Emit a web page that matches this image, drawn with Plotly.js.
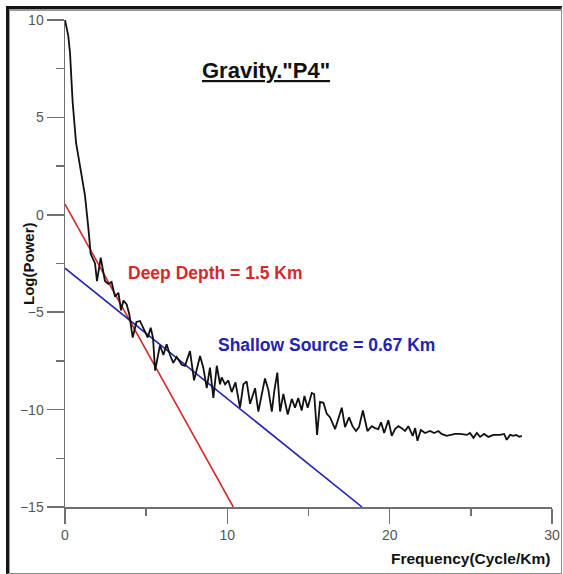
<!DOCTYPE html>
<html>
<head>
<meta charset="utf-8">
<script src="https://cdn.plot.ly/plotly-3.0.1.min.js"></script>
<style>
  html, body { margin: 0; padding: 0; background: #ffffff; }
  #wrap { position: relative; width: 563px; height: 574px; }
  #chart { position: absolute; left: 0; top: 0; width: 563px; height: 574px; }
  #frame {
    position: absolute; left: 6px; top: 6px; width: 552px; height: 564px;
    border-left: 3px solid #141414; border-top: 3px solid #141414;
    border-right: 1px solid #8c8c8c; border-bottom: 1px solid #8c8c8c;
    box-shadow: inset 1px 2px 0 #9a9a9a;
    pointer-events: none;
  }
</style>
</head>
<body>
<div id="wrap">
  <div id="chart"></div>
  <div id="frame"></div>
</div>
<script>
// Radially averaged power spectrum of the gravity profile P4
const frequency = [
  0.00, 0.20, 0.31, 0.47, 0.68, 0.92, 1.23, 1.44, 1.58, 1.85,
  1.97, 2.20, 2.46, 2.67, 2.87, 3.08, 3.29, 3.45, 3.60, 3.80,
  3.96, 4.17, 4.40, 4.62, 4.83, 5.10, 5.28, 5.42, 5.55, 5.85,
  6.06, 6.26, 6.47, 6.67, 6.88, 7.19, 7.39, 7.70, 7.95, 8.15,
  8.32, 8.52, 8.73, 8.93, 9.14, 9.35, 9.55, 9.65, 9.86, 10.06,
  10.27, 10.50, 10.78, 10.99, 11.19, 11.40, 11.71, 11.91, 12.12, 12.32,
  12.53, 12.74, 12.90, 13.08, 13.25, 13.45, 13.72, 13.97, 14.17, 14.37,
  14.58, 14.75, 14.95, 15.20, 15.35, 15.53, 15.71, 15.92, 16.12, 16.33,
  16.64, 16.88, 17.05, 17.25, 17.50, 17.71, 17.93, 18.11, 18.35, 18.63,
  18.90, 19.10, 19.30, 19.47, 19.66, 19.92, 20.13, 20.33, 20.54, 20.74,
  20.95, 21.15, 21.42, 21.57, 21.71, 21.92, 22.18, 22.49, 22.74, 23.00,
  23.20, 23.51, 24.03, 24.34, 24.75, 24.95, 25.16, 25.37, 25.57, 25.82,
  26.08, 26.39, 26.80, 27.05, 27.21, 27.42, 27.62, 27.79, 27.99, 28.14
];
const logPower = [
  10.0, 9.2, 8.3, 5.8, 3.7, 2.5, 1.0, -0.7, -2.0, -2.5,
  -3.4, -2.2, -3.4, -3.55, -3.45, -4.2, -4.0, -4.9, -4.4, -4.6,
  -5.1, -6.3, -5.5, -5.45, -5.8, -6.3, -5.8, -6.3, -8.0, -6.7,
  -7.2, -6.65, -7.2, -7.6, -7.3, -7.7, -7.75, -7.0, -8.5, -7.85,
  -7.25, -7.85, -8.9, -7.85, -9.4, -7.75, -8.7, -8.35, -8.7, -8.5,
  -9.1, -8.6, -9.9, -8.7, -8.55, -9.7, -8.9, -10.1, -9.2, -8.4,
  -9.0, -10.1, -9.0, -8.1, -10.1, -9.2, -10.25, -9.45, -9.9, -9.4,
  -10.05, -9.3, -9.9, -9.15, -9.2, -11.3, -9.6, -9.65, -10.2, -10.4,
  -11.0, -10.3, -9.9, -10.9, -10.4, -10.85, -11.1, -10.9, -10.05, -11.1,
  -10.85, -10.95, -11.0, -10.65, -11.2, -10.55, -11.35, -11.0, -10.85, -10.95,
  -11.1, -10.85, -11.35, -10.95, -11.6, -11.05, -11.2, -11.1, -11.2, -11.1,
  -11.25, -11.35, -11.25, -11.25, -11.3, -11.2, -11.45, -11.2, -11.4, -11.25,
  -11.4, -11.3, -11.3, -11.25, -11.55, -11.3, -11.35, -11.3, -11.4, -11.35
];

// Straight-line fits: slope magnitude equals the quoted depth
const fitNames = ['Deep Depth', 'Shallow Source'];
const fitDepthKm = [1.5, 0.67];
const fitIntercept = [0.55, -2.74];
const fitColors = ['#d42a2a', '#2323ad'];

const xRange = [0, 30];
const yRange = [-15, 10];
const xTickVals = [0, 10, 20, 30];
const yTickVals = [-15, -10, -5, 0, 5, 10];

const fitTraces = fitNames.map((name, i) => {
  const xEnd = (fitIntercept[i] - yRange[0]) / fitDepthKm[i];
  return {
    type: 'scatter', mode: 'lines', name: name,
    x: [0, xEnd],
    y: [fitIntercept[i], fitIntercept[i] - fitDepthKm[i] * xEnd],
    line: { color: fitColors[i], width: 1.6 },
    hoverinfo: 'skip'
  };
});

const spectrum = {
  type: 'scatter', mode: 'lines', name: 'Power spectrum',
  x: frequency, y: logPower,
  line: { color: '#111111', width: 1.8 }
};

const axisCommon = {
  showgrid: false, zeroline: false,
  showline: true, linecolor: '#707070', linewidth: 1.5,
  ticks: 'outside', tickcolor: '#707070', tickwidth: 1.5,
  tickfont: { family: 'Liberation Sans, Arial, sans-serif', size: 14, color: '#555555' },
  fixedrange: true
};

const layout = {
  width: 563, height: 574,
  margin: { l: 65, r: 11, t: 20, b: 67 },
  paper_bgcolor: '#ffffff', plot_bgcolor: '#ffffff',
  showlegend: false,
  xaxis: Object.assign({}, axisCommon, {
    range: xRange, tickvals: xTickVals, ticklen: 15,
    minor: { dtick: 5, ticks: 'outside', ticklen: 7, tickcolor: '#707070', tickwidth: 1.5 }
  }),
  yaxis: Object.assign({}, axisCommon, {
    range: yRange, tickvals: yTickVals, ticklen: 17,
    minor: { dtick: 2.5, ticks: 'outside', ticklen: 8, tickcolor: '#707070', tickwidth: 1.5 }
  }),
  annotations: [
    {
      text: '<u>Gravity."P4"</u>', xref: 'paper', yref: 'paper',
      x: 0.413, y: 0.897, xanchor: 'center', yanchor: 'middle', showarrow: false,
      font: { family: 'Liberation Sans, Arial, sans-serif', size: 22, color: '#111111', weight: 'bold' }
    },
    {
      text: '<b>Deep Depth = ' + fitDepthKm[0] + ' Km</b>', xref: 'x', yref: 'y',
      x: 3.76, y: -2.98, xanchor: 'left', yanchor: 'middle', showarrow: false,
      font: { family: 'Liberation Sans, Arial, sans-serif', size: 17.5, color: '#d42a2a' }
    },
    {
      text: '<b>Shallow Source = ' + fitDepthKm[1] + ' Km</b>', xref: 'x', yref: 'y',
      x: 9.3, y: -6.68, xanchor: 'left', yanchor: 'middle', showarrow: false,
      font: { family: 'Liberation Sans, Arial, sans-serif', size: 17.5, color: '#2323ad' }
    },
    {
      text: '<b>Log(Power)</b>', xref: 'paper', yref: 'paper',
      x: -0.075, y: 0.5, xanchor: 'center', yanchor: 'middle', textangle: -90, showarrow: false,
      font: { family: 'Liberation Sans, Arial, sans-serif', size: 15, color: '#111111' }
    },
    {
      text: '<b>Frequency(Cycle/Km)</b>', xref: 'paper', yref: 'paper',
      x: 1.0, y: -0.105, xanchor: 'right', yanchor: 'middle', showarrow: false,
      font: { family: 'Liberation Sans, Arial, sans-serif', size: 15.5, color: '#111111' }
    }
  ]
};

Plotly.newPlot('chart', [fitTraces[0], fitTraces[1], spectrum], layout, { displayModeBar: false, staticPlot: true });
</script>
</body>
</html>
